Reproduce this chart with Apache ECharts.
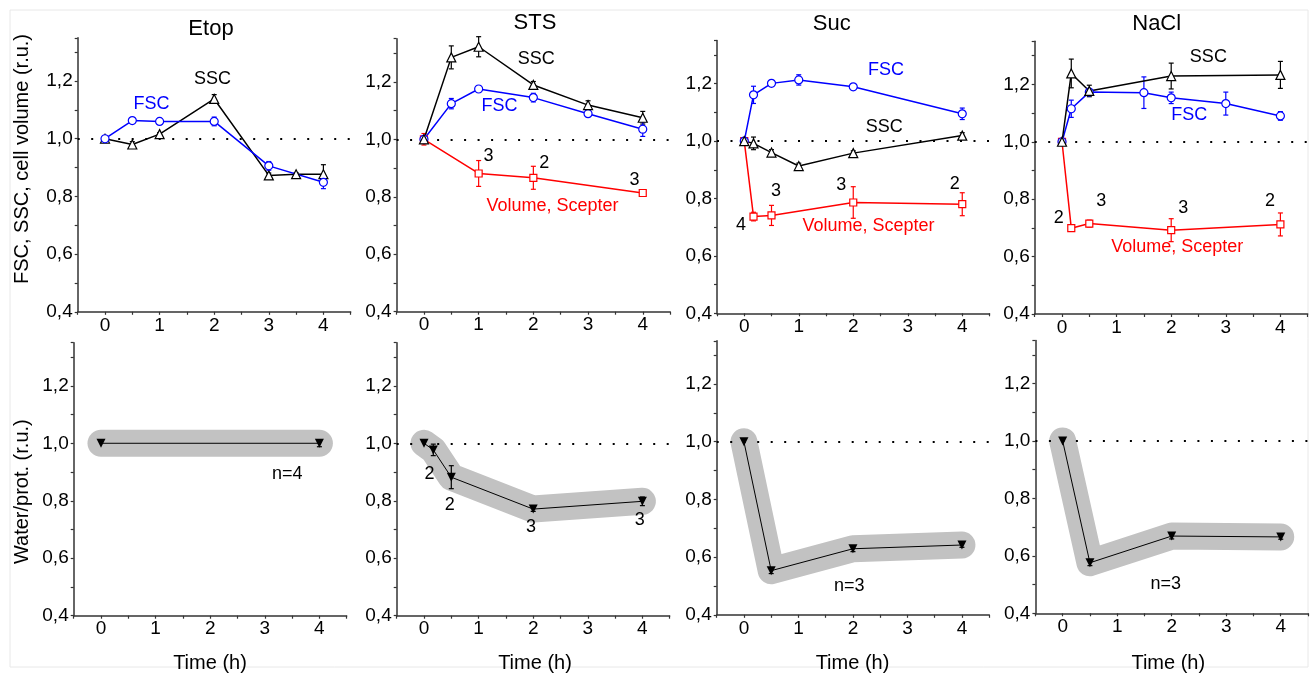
<!DOCTYPE html>
<html><head><meta charset="utf-8">
<script src="https://cdn.jsdelivr.net/npm/echarts@6/dist/echarts.min.js"></script>
<style>html,body{margin:0;padding:0;background:#fff}#c{width:1311px;height:679px}</style>
</head><body><div id="c"></div>
<script>
// ---------- DATA (time in h, values in r.u.) ----------
const panelNames = ['Etop', 'STS', 'Suc', 'NaCl'];
const yTickLabels = ['0,4', '0,6', '0,8', '1,0', '1,2'];
const xTickLabels = ['0', '1', '2', '3', '4'];

// Etop
const etopFscX = [0, 0.5, 1, 2, 3, 4];
const etopFscY = [1.0, 1.063, 1.060, 1.060, 0.906, 0.849];
const etopFscErr = [0, 0.004, 0.006, 0.015, 0.015, 0.022];
const etopSscX = [0, 0.5, 1, 2, 3, 3.5, 4];
const etopSscY = [1.0, 0.980, 1.016, 1.138, 0.873, 0.877, 0.877];
const etopSscErr = [0, 0.01, 0.005, 0.015, 0.008, 0.005, 0.033];
const etopWpX = [0, 4];
const etopWpY = [1.0, 1.0];
const etopWpErr = [0, 0.012];

// STS
const stsFscX = [0, 0.5, 1, 2, 3, 4];
const stsFscY = [1.0, 1.124, 1.175, 1.145, 1.089, 1.035];
const stsFscErr = [0, 0.018, 0.01, 0.015, 0.01, 0.025];
const stsSscX = [0, 0.5, 1, 2, 3, 4];
const stsSscY = [1.0, 1.285, 1.322, 1.189, 1.119, 1.075];
const stsSscErr = [0, 0.04, 0.035, 0.012, 0.015, 0.022];
const stsVolX = [0, 1, 2, 4];
const stsVolY = [1.0, 0.881, 0.866, 0.813];
const stsVolErr = [0.02, 0.045, 0.04, 0.01];
const stsWpX = [0, 0.17, 0.5, 2, 4];
const stsWpY = [1.0, 0.977, 0.882, 0.771, 0.798];
const stsWpErr = [0, 0.02, 0.04, 0.008, 0.015];

// Suc
const sucFscX = [0, 0.17, 0.5, 1, 2, 4];
const sucFscY = [1.0, 1.161, 1.201, 1.213, 1.189, 1.095];
const sucFscErr = [0, 0.03, 0.008, 0.018, 0.01, 0.02];
const sucSscX = [0, 0.17, 0.5, 1, 2, 4];
const sucSscY = [1.0, 0.992, 0.960, 0.913, 0.958, 1.019];
const sucSscErr = [0, 0.022, 0.01, 0.01, 0.008, 0.01];
const sucVolX = [0, 0.17, 0.5, 2, 4];
const sucVolY = [1.0, 0.737, 0.741, 0.786, 0.780];
const sucVolErr = [0, 0.015, 0.035, 0.055, 0.04];
const sucWpX = [0, 0.5, 2, 4];
const sucWpY = [1.0, 0.553, 0.629, 0.642];
const sucWpErr = [0, 0.01, 0.01, 0.008];

// NaCl
const naclFscX = [0, 0.17, 0.5, 1.5, 2, 3, 4];
const naclFscY = [1.0, 1.115, 1.173, 1.171, 1.153, 1.133, 1.090];
const naclFscErr = [0, 0.03, 0.01, 0.055, 0.02, 0.04, 0.015];
const naclSscX = [0, 0.17, 0.5, 2, 4];
const naclSscY = [1.0, 1.238, 1.177, 1.229, 1.233];
const naclSscErr = [0, 0.05, 0.02, 0.045, 0.047];
const naclVolX = [0, 0.17, 0.5, 2, 4];
const naclVolY = [1.0, 0.699, 0.715, 0.692, 0.712];
const naclVolErr = [0, 0.005, 0.012, 0.04, 0.04];
const naclWpX = [0, 0.5, 2, 4];
const naclWpY = [1.0, 0.576, 0.669, 0.666];
const naclWpErr = [0, 0.01, 0.01, 0.008];

// Annotations: [x, y, text, kind]
const etopTopNotes = [[1.98, 1.204, 'SSC', 'k'], [0.86, 1.117, 'FSC', 'b']];
const stsTopNotes = [[2.06, 1.276, 'SSC', 'k'], [1.39, 1.113, 'FSC', 'b'], [1.19, 0.939, '3', 'k'], [2.21, 0.916, '2', 'k'], [3.86, 0.858, '3', 'k'], [2.36, 0.765, 'Volume, Scepter', 'r']];
const sucTopNotes = [[2.61, 1.244, 'FSC', 'b'], [2.58, 1.046, 'SSC', 'k'], [-0.05, 0.705, '4', 'k'], [0.59, 0.823, '3', 'k'], [1.79, 0.844, '3', 'k'], [3.87, 0.847, '2', 'k'], [2.29, 0.701, 'Volume, Scepter', 'r']];
const naclTopNotes = [[2.69, 1.295, 'SSC', 'k'], [2.34, 1.093, 'FSC', 'b'], [-0.05, 0.734, '2', 'k'], [0.73, 0.793, '3', 'k'], [2.23, 0.769, '3', 'k'], [3.82, 0.791, '2', 'k'], [2.12, 0.631, 'Volume, Scepter', 'r']];
const etopBotNotes = [[3.42, 0.890, 'n=4', 'k']];
const stsBotNotes = [[0.11, 0.890, '2', 'k'], [0.48, 0.785, '2', 'k'], [1.97, 0.708, '3', 'k'], [3.96, 0.730, '3', 'k']];
const sucBotNotes = [[1.94, 0.499, 'n=3', 'k']];
const naclBotNotes = [[1.90, 0.499, 'n=3', 'k']];

// ---------- LAYOUT / STYLE ----------
const FONT = '"Liberation Sans", Arial, Helvetica, sans-serif';
const BLUE = '#0000ff', RED = '#ff0000', BLACK = '#000000';
const kindColor = { k: BLACK, b: BLUE, r: RED };
const gridBoxes = [
  [77.7, 37.8, 273, 274], [396.6, 38.7, 273.5, 273], [717, 40.6, 272.5, 272.7], [1034.7, 41.3, 273, 272.7],
  [73.7, 342.7, 273, 273], [396.7, 342.7, 273, 273], [716.7, 340.8, 272.5, 274], [1035.4, 340.5, 273, 272.8]
];

const fmtY = v => { const k = Math.round(v * 10); if (Math.abs(v * 10 - k) > 1e-6 || k % 2 !== 0) return ''; const s = (k / 10).toFixed(1).replace('.', ','); return yTickLabels.indexOf(s) >= 0 ? s : ''; };
const fmtX = v => { const r = Math.round(v); if (Math.abs(v - r) > 1e-6) return ''; const s = String(r); return xTickLabels.indexOf(s) >= 0 ? s : ''; };

const axisLineStyle = { color: '#333', width: 1.5 };
const grids = gridBoxes.map(b => ({ left: b[0], top: b[1], width: b[2], height: b[3], show: false }));
const xAxes = gridBoxes.map((b, i) => ({
  type: 'value', gridIndex: i, min: -0.5, max: 4.5, interval: 0.5,
  axisLine: { show: true, onZero: false, lineStyle: axisLineStyle },
  axisTick: { show: true, inside: false, length: 3, lineStyle: { color: '#333', width: 1.2 } },
  axisLabel: { margin: 4, fontSize: 19, color: '#000', fontFamily: FONT, formatter: fmtX },
  splitLine: { show: false }
}));
const yAxes = gridBoxes.map((b, i) => ({
  type: 'value', gridIndex: i, min: 0.4, max: 1.35, interval: 0.1,
  axisLine: { show: true, onZero: false, lineStyle: axisLineStyle },
  axisTick: { show: true, inside: false, length: 3, lineStyle: { color: '#333', width: 1.2 } },
  axisLabel: { margin: 5, fontSize: 19, color: '#000', fontFamily: FONT, formatter: fmtY },
  splitLine: { show: false }
}));

const pairs = (xs, ys) => xs.map((x, i) => [x, ys[i]]);
const series = [];

function refLine(gi, xs, ys) {
  series.push({
    type: 'line', xAxisIndex: gi, yAxisIndex: gi, data: pairs(xs, ys), symbol: 'none',
    lineStyle: { opacity: 0, width: 0 }, silent: true, z: 1,
    markLine: { silent: true, symbol: 'none', label: { show: false }, animation: false,
      lineStyle: { color: '#000', type: [2, 11.5], width: 1.8, opacity: 1 }, data: [{ yAxis: 1 }] }
  });
}
function errBars(gi, xs, ys, es, color) {
  series.push({
    type: 'custom', xAxisIndex: gi, yAxisIndex: gi, z: 4, silent: true,
    data: xs.map((x, i) => [x, ys[i], es[i]]).filter(d => d[2] > 0),
    encode: { x: 0, y: 1 },
    renderItem: (params, api) => {
      const x = api.value(0), y = api.value(1), e = api.value(2);
      const hi = api.coord([x, y + e]), lo = api.coord([x, y - e]);
      const w = 2.5, st = { stroke: color, lineWidth: 1.2 };
      return { type: 'group', children: [
        { type: 'line', shape: { x1: hi[0], y1: hi[1], x2: lo[0], y2: lo[1] }, style: st },
        { type: 'line', shape: { x1: hi[0] - w, y1: hi[1], x2: hi[0] + w, y2: hi[1] }, style: st },
        { type: 'line', shape: { x1: lo[0] - w, y1: lo[1], x2: lo[0] + w, y2: lo[1] }, style: st }
      ] };
    }
  });
}
function openLine(gi, xs, ys, color, symbol, size) {
  series.push({
    type: 'line', xAxisIndex: gi, yAxisIndex: gi, data: pairs(xs, ys), z: 5,
    symbol: symbol, symbolSize: size, showAllSymbol: true,
    lineStyle: { color: color, width: 1.5 },
    itemStyle: { color: '#fff', borderColor: color, borderWidth: 1.2 }
  });
}
function notes(gi, list, size) {
  series.push({
    type: 'scatter', xAxisIndex: gi, yAxisIndex: gi, z: 6, silent: true,
    symbolSize: 1, itemStyle: { color: 'rgba(0,0,0,0)' },
    data: list.map(n => ({ value: [n[0], n[1]], name: n[2], label: { color: kindColor[n[3]] } })),
    label: { show: true, position: [0, 0], align: 'center', verticalAlign: 'middle',
      formatter: p => p.name, fontSize: size, fontFamily: FONT, textBorderWidth: 0, opacity: 1 }
  });
}
function waterPanel(gi, xs, ys, es, withRef) {
  if (withRef) refLine(gi, xs, ys);
  series.push({
    type: 'line', xAxisIndex: gi, yAxisIndex: gi, data: pairs(xs, ys), symbol: 'none', z: 2, silent: true,
    lineStyle: { color: '#c2c2c2', width: 27, cap: 'round', join: 'round' }
  });
  errBars(gi, xs, ys, es, BLACK);
  series.push({
    type: 'line', xAxisIndex: gi, yAxisIndex: gi, data: pairs(xs, ys), z: 5,
    symbol: 'triangle', symbolRotate: 180, symbolSize: 9, showAllSymbol: true,
    lineStyle: { color: BLACK, width: 1 }, itemStyle: { color: BLACK }
  });
}

// Top row
refLine(0, etopFscX, etopFscY);
errBars(0, etopSscX, etopSscY, etopSscErr, BLACK);
errBars(0, etopFscX, etopFscY, etopFscErr, BLUE);
openLine(0, etopSscX, etopSscY, BLACK, 'triangle', 9);
openLine(0, etopFscX, etopFscY, BLUE, 'circle', 8);
notes(0, etopTopNotes, 18);

refLine(1, stsFscX, stsFscY);
errBars(1, stsSscX, stsSscY, stsSscErr, BLACK);
errBars(1, stsFscX, stsFscY, stsFscErr, BLUE);
errBars(1, stsVolX, stsVolY, stsVolErr, RED);
openLine(1, stsVolX, stsVolY, RED, 'rect', 7);
openLine(1, stsFscX, stsFscY, BLUE, 'circle', 8);
openLine(1, stsSscX, stsSscY, BLACK, 'triangle', 9);
notes(1, stsTopNotes, 18);

refLine(2, sucFscX, sucFscY);
errBars(2, sucSscX, sucSscY, sucSscErr, BLACK);
errBars(2, sucFscX, sucFscY, sucFscErr, BLUE);
errBars(2, sucVolX, sucVolY, sucVolErr, RED);
openLine(2, sucVolX, sucVolY, RED, 'rect', 7);
openLine(2, sucFscX, sucFscY, BLUE, 'circle', 8);
openLine(2, sucSscX, sucSscY, BLACK, 'triangle', 9);
notes(2, sucTopNotes, 18);

refLine(3, naclFscX, naclFscY);
errBars(3, naclSscX, naclSscY, naclSscErr, BLACK);
errBars(3, naclFscX, naclFscY, naclFscErr, BLUE);
errBars(3, naclVolX, naclVolY, naclVolErr, RED);
openLine(3, naclVolX, naclVolY, RED, 'rect', 7);
openLine(3, naclFscX, naclFscY, BLUE, 'circle', 8);
openLine(3, naclSscX, naclSscY, BLACK, 'triangle', 9);
notes(3, naclTopNotes, 18);

// Bottom row
waterPanel(4, etopWpX, etopWpY, etopWpErr, false);
notes(4, etopBotNotes, 18);
waterPanel(5, stsWpX, stsWpY, stsWpErr, true);
notes(5, stsBotNotes, 18);
waterPanel(6, sucWpX, sucWpY, sucWpErr, true);
notes(6, sucBotNotes, 18);
waterPanel(7, naclWpX, naclWpY, naclWpErr, true);
notes(7, naclBotNotes, 18);

const titlePos = [[211, 29], [535, 23], [831.7, 23.5], [1156.7, 23.5]];
const timePos = [210, 535, 852.5, 1168.3];
const txt = (x, y, text, size, rot) => ({
  type: 'text', x: x, y: y, rotation: rot || 0, silent: true,
  style: { text: text, fontSize: size, fontFamily: FONT, fill: '#000', textAlign: 'center', textVerticalAlign: 'middle', align: 'center', verticalAlign: 'middle' }
});
const graphic = [
  { type: 'rect', shape: { x: 10, y: 10, width: 1298, height: 657 }, style: { fill: 'none', stroke: '#e8e8e8', lineWidth: 1 }, silent: true, z: -10 }
];
panelNames.forEach((n, i) => graphic.push(txt(titlePos[i][0], titlePos[i][1], n, 22)));
timePos.forEach(x => graphic.push(txt(x, 663, 'Time (h)', 20)));
graphic.push(txt(22, 159, 'FSC, SSC, cell volume (r.u.)', 20, Math.PI / 2));
graphic.push(txt(22.5, 491.7, 'Water/prot. (r.u.)', 20, Math.PI / 2));

const chart = echarts.init(document.getElementById('c'), null, { renderer: 'canvas' });
chart.setOption({
  animation: false,
  backgroundColor: '#fff',
  textStyle: { fontFamily: FONT },
  grid: grids, xAxis: xAxes, yAxis: yAxes,
  series: series,
  graphic: graphic
});
</script>
</body></html>
